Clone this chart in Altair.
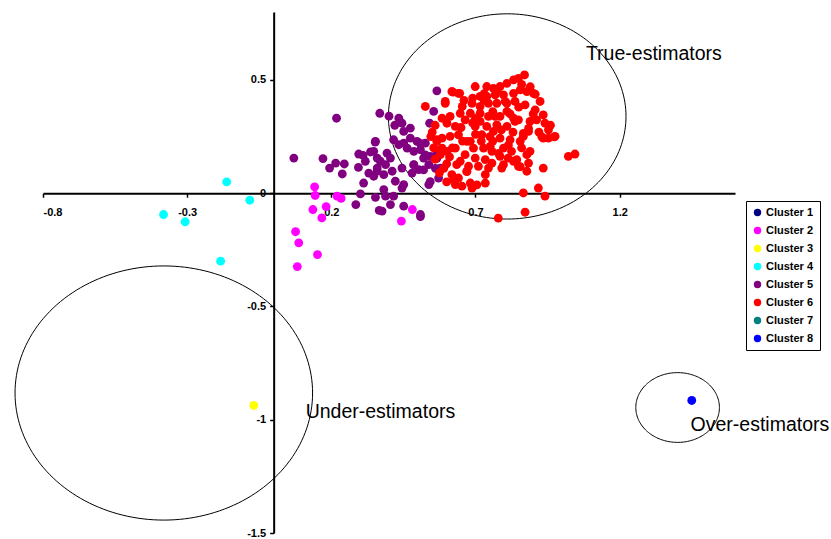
import numpy as np
import pandas as pd
import altair as alt

# Cluster names and their colours
clusters = [f"Cluster {i}" for i in range(1, 9)]
cluster_colors = ["#000080", "#FF00FF", "#FFFF00", "#00FFFF",
                  "#800080", "#FF0000", "#008080", "#0000FF"]

# Cluster 2 (magenta)
c2_x = [0.142, 0.144, 0.220, 0.234, 0.136, 0.182, 0.167, 0.076, 0.087, 0.152, 0.082, 0.481, 0.443]
c2_y = [0.028, -0.010, -0.013, -0.023, -0.072, -0.059, -0.109, -0.170, -0.219, -0.271, -0.324, -0.072, -0.123]

# Cluster 3 (yellow)
c3_x = [-0.069]
c3_y = [-0.937]

# Cluster 4 (cyan)
c4_x = [-0.163, -0.083, -0.382, -0.307, -0.184]
c4_y = [0.050, -0.031, -0.094, -0.126, -0.300]

# Cluster 5 (purple)
c5_x = [0.218, 0.070, 0.171, 0.194, 0.215, 0.245, 0.238, 0.295, 0.310, 0.294,
        0.336, 0.352, 0.368, 0.318, 0.330, 0.347, 0.312, 0.301, 0.353, 0.285,
        0.366, 0.359, 0.359, 0.566, 0.434, 0.445, 0.451, 0.474, 0.541, 0.555,
        0.353, 0.416, 0.434, 0.451, 0.463, 0.486, 0.509, 0.526, 0.520, 0.543,
        0.538, 0.566, 0.578, 0.572, 0.538, 0.486, 0.480, 0.503, 0.445, 0.405,
        0.388, 0.370, 0.359, 0.382, 0.411, 0.422, 0.451, 0.382, 0.388, 0.416,
        0.445, 0.405, 0.451, 0.376, 0.509, 0.347, 0.393, 0.497, 0.474, 0.509,
        0.526, 0.486, 0.520, 0.561, 0.543, 0.566, 0.509, 0.400, 0.420]
c5_y = [0.331, 0.155, 0.153, 0.111, 0.133, 0.129, 0.085, 0.173, 0.167, 0.114,
        0.182, 0.226, 0.353, 0.141, 0.089, 0.075, 0.045, -0.003, -0.018, -0.050,
        -0.076, 0.111, 0.155, 0.452, 0.331, 0.309, 0.273, 0.287, 0.309, 0.361,
        0.229, 0.236, 0.214, 0.221, 0.199, 0.185, 0.192, 0.221, 0.155, 0.163,
        0.126, 0.177, 0.111, 0.067, 0.038, 0.126, 0.089, 0.104, 0.111, 0.155,
        0.126, 0.141, 0.097, 0.082, 0.097, 0.053, 0.038, 0.016, -0.013, -0.013,
        0.023, -0.050, -0.057, -0.079, -0.094, 0.185, 0.177, 0.229, 0.243, 0.220,
        0.169, 0.125, 0.103, 0.110, 0.051, 0.154, -0.103, 0.340, 0.300]

# Cluster 6 (red)
c6_x = [0.870, 0.849, 0.832, 0.809, 0.785, 0.762, 0.739, 0.699, 0.645, 0.622,
        0.901, 0.878, 0.855, 0.832, 0.797, 0.768, 0.739, 0.716, 0.688, 0.716,
        0.745, 0.774, 0.809, 0.837, 0.872, 0.907, 0.935, 0.912, 0.941, 0.953,
        0.935, 0.953, 0.976, 0.884, 0.866, 0.889, 0.878, 0.843, 0.884, 0.849,
        0.878, 0.935, 1.022, 1.045, 0.809, 0.785, 0.832, 0.849, 0.809, 0.774,
        0.745, 0.716, 0.682, 0.664, 0.647, 0.612, 0.584, 0.595, 0.526, 0.699,
        0.739, 0.722, 0.762, 0.785, 0.820, 0.797, 0.825, 0.813, 0.785, 0.757,
        0.728, 0.693, 0.670, 0.641, 0.612, 0.584, 0.566, 0.578, 0.601, 0.630,
        0.664, 0.699, 0.734, 0.757, 0.745, 0.734, 0.710, 0.676, 0.670, 0.635,
        0.618, 0.641, 0.630, 0.653, 0.682, 0.688, 0.734, 0.797, 0.791, 0.832,
        0.866, 0.918, 0.941, 0.779, 0.872, 0.595, 0.618, 0.641, 0.601, 0.566,
        0.584, 0.578, 0.624, 0.630, 0.654, 0.682, 0.716, 0.768, 0.803, 0.837,
        0.751, 0.647, 0.855, 0.889, 0.924, 0.860, 0.890, 0.760, 0.700, 0.650,
        0.700, 0.760, 0.830, 0.860, 0.730, 0.660, 0.620, 0.600, 0.560, 0.550,
        0.907, 0.930, 0.973, 0.866, 0.884, 0.814, 0.780, 0.855, 0.705, 0.670,
        0.545, 0.555, 0.560, 0.590, 0.600, 0.575, 0.610, 0.655, 0.690, 0.720,
        0.750, 0.790, 0.820, 0.850, 0.900, 0.920, 0.960, 0.690, 0.730, 0.775]
c6_y = [0.522, 0.507, 0.500, 0.485, 0.471, 0.463, 0.471, 0.471, 0.441, 0.446,
        0.441, 0.449, 0.456, 0.441, 0.434, 0.434, 0.427, 0.427, 0.397, 0.383,
        0.397, 0.397, 0.397, 0.405, 0.390, 0.368, 0.346, 0.324, 0.309, 0.280,
        0.243, 0.243, 0.251, 0.273, 0.251, 0.185, 0.170, 0.148, 0.133, 0.119,
        0.097, 0.111, 0.163, 0.173, 0.361, 0.339, 0.331, 0.324, 0.295, 0.302,
        0.339, 0.353, 0.353, 0.324, 0.353, 0.339, 0.331, 0.397, 0.383, 0.295,
        0.295, 0.258, 0.273, 0.243, 0.236, 0.199, 0.185, 0.155, 0.163, 0.185,
        0.199, 0.199, 0.229, 0.258, 0.251, 0.243, 0.229, 0.192, 0.185, 0.199,
        0.170, 0.155, 0.148, 0.133, 0.111, 0.082, 0.119, 0.119, 0.097, 0.126,
        0.082, 0.067, 0.038, 0.031, 0.045, 0.023, 0.045, 0.126, 0.111, 0.141,
        0.001, 0.023, -0.013, -0.110, -0.084, 0.405, 0.449, 0.441, 0.309, 0.236,
        0.199, 0.170, 0.060, 0.295, 0.383, 0.229, 0.317, 0.339, 0.405, 0.317,
        0.207, 0.141, 0.229, 0.317, 0.405, 0.480, 0.470, 0.230, 0.260, 0.290,
        0.330, 0.360, 0.270, 0.200, 0.410, 0.410, 0.200, 0.130, 0.300, 0.270,
        0.437, 0.249, 0.249, 0.264, 0.286, 0.212, 0.176, 0.117, 0.037, 0.095,
        0.250, 0.200, 0.150, 0.110, 0.050, 0.090, 0.160, 0.230, 0.310, 0.230,
        0.250, 0.280, 0.350, 0.380, 0.350, 0.270, 0.300, 0.420, 0.440, 0.450]

# Cluster 8 (blue)
c8_x = [1.450]
c8_y = [-0.915]

# Group outlines: centre and semi-axes
ell_names = ["true", "under", "over"]
ell_cx = [0.810, -0.381, 1.401]
ell_cy = [0.339, -0.882, -0.946]
ell_rx = [0.412, 0.516, 0.145]
ell_ry = [0.453, 0.561, 0.154]

# Group labels
label_text = ["True-estimators", "Under-estimators", "Over-estimators"]
label_x = [1.083, 0.111, 1.446]
label_y = [0.616, -0.968, -1.025]

x_ticks = [-0.8, -0.3, 0.2, 0.7, 1.2]
y_ticks = [-1.5, -1.0, -0.5, 0.0, 0.5]

X_DOMAIN = [-0.8, 1.6]
Y_DOMAIN = [-1.5, 0.8]
W, H = 692, 521

rows = []
for name, xs, ys in [("Cluster 2", c2_x, c2_y), ("Cluster 3", c3_x, c3_y),
                     ("Cluster 4", c4_x, c4_y), ("Cluster 5", c5_x, c5_y),
                     ("Cluster 6", c6_x, c6_y), ("Cluster 8", c8_x, c8_y)]:
    rows += [{"cluster": name, "x": a, "y": b} for a, b in zip(xs, ys)]
points = pd.DataFrame(rows)

t = np.linspace(0, 2 * np.pi, 181)
ell_rows = []
for n, cx, cy, rx, ry in zip(ell_names, ell_cx, ell_cy, ell_rx, ell_ry):
    for i, ti in enumerate(t):
        ell_rows.append({"name": n, "i": i,
                         "x": cx + rx * np.cos(ti), "y": cy + ry * np.sin(ti)})
ellipses = pd.DataFrame(ell_rows)

labels = pd.DataFrame({"text": label_text, "x": label_x, "y": label_y})

# axes cross at the origin
x_off = -(H * (0 - Y_DOMAIN[0]) / (Y_DOMAIN[1] - Y_DOMAIN[0]))
y_off = -(W * (0 - X_DOMAIN[0]) / (X_DOMAIN[1] - X_DOMAIN[0]))

x_axis = alt.Axis(values=x_ticks, offset=x_off, labelExpr="'' + datum.value",
                  title=None, grid=False)
y_axis = alt.Axis(values=y_ticks, offset=y_off, labelExpr="'' + datum.value",
                  title=None, grid=False)
xs = alt.Scale(domain=X_DOMAIN, nice=False, zero=False)
ys = alt.Scale(domain=Y_DOMAIN, nice=False, zero=False)

X = alt.X("x:Q", scale=xs, axis=x_axis)
Y = alt.Y("y:Q", scale=ys, axis=y_axis)

outline = alt.Chart(ellipses).mark_line(color="black", strokeWidth=1).encode(
    x=X, y=Y, detail="name:N", order="i:Q")

dots = alt.Chart(points).mark_circle(size=78, opacity=1).encode(
    x=X, y=Y,
    color=alt.Color("cluster:N",
                    scale=alt.Scale(domain=clusters, range=cluster_colors),
                    legend=alt.Legend(orient="none", legendX=703, legendY=189,
                                      title=None, strokeColor="black",
                                      fillColor="white", padding=6,
                                      symbolType="circle", symbolSize=55,
                                      symbolStrokeWidth=0, rowPadding=6,
                                      labelFont="Liberation Sans",
                                      labelFontSize=11, labelFontWeight="bold",
                                      labelColor="black", labelOffset=3)))

texts = alt.Chart(labels).mark_text(align="left", baseline="middle",
                                    font="Liberation Sans", fontSize=19.5,
                                    color="black").encode(x=X, y=Y, text="text:N")

chart = alt.layer(outline, dots, texts).properties(
    width=W, height=H,
    autosize=alt.AutoSizeParams(type="none"),
    padding={"left": 43, "top": 12, "right": 96, "bottom": 6},
    background="white",
).configure_view(stroke=None).configure_axis(
    domainColor="black", domainWidth=2, tickColor="black", tickSize=4,
    tickWidth=1.5, labelColor="black", labelFont="Liberation Sans",
    labelFontSize=11, labelFontWeight="bold", labelPadding=4,
).configure_axisX(labelPadding=9)

chart.save("out.html", embed_options={"renderer": "svg", "actions": False})
